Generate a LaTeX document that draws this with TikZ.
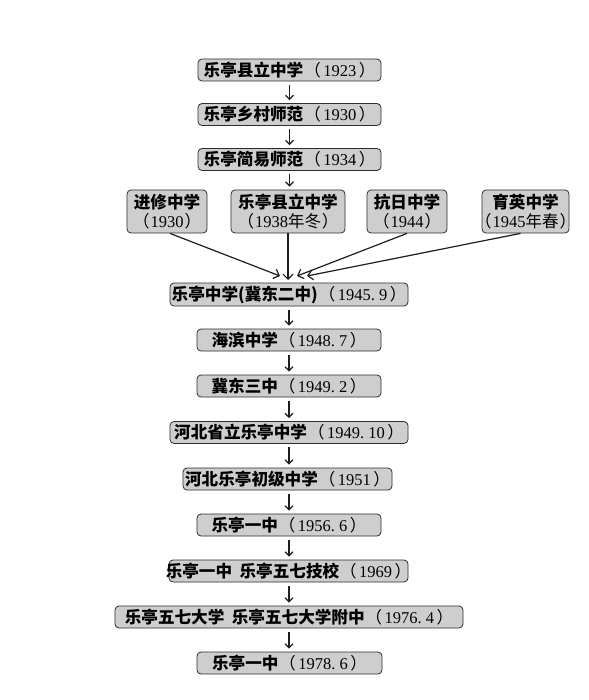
\documentclass[tikz,border=0pt]{standalone}
\usepackage{fontspec}
\setmainfont{Liberation Serif}
\newfontfamily\cjk{Noto Sans CJK SC}
\usetikzlibrary{arrows.meta}
\newcommand\zc[1]{\makebox[0pt]{#1}}
\newcommand\zh[1]{{\cjk\bfseries\fontsize{16.6}{18}\selectfont #1}}
\newcommand\yr[1]{\hspace{1pt}{\cjk （}\hspace{2.5pt}#1\hspace{2.5pt}{\cjk ）}}
\newcommand\yrr[1]{{\cjk （}\hspace{1pt}#1\hspace{1pt}{\cjk ）}}
\newcommand\pd{\makebox[0.5em][l]{.}}
\definecolor{boxfill}{RGB}{206,206,206}
\definecolor{boxline}{RGB}{45,45,45}
\definecolor{arrline}{RGB}{30,30,30}
\tikzset{
  box/.style={draw=boxline, fill=boxfill, rounded corners=4pt, line width=0.8pt,
    inner sep=0pt, text=black, font=\fontsize{16.5}{18.5}\selectfont, align=center},
  arr/.style={draw=arrline, line width=1.2pt, -{Straight Barb[length=4pt,width=8pt,line width=1.2pt]},
    shorten <=3.5pt, shorten >=3pt},
  conv/.style={draw=arrline, line width=1.2pt, -{Straight Barb[length=5pt,width=10pt,line width=1.2pt]}}
}
\begin{document}
\begin{tikzpicture}[x=1pt,y=-1pt]
\useasboundingbox (0,0) rectangle (588,700);
\fill[white] (0,0) rectangle (588,700);

\node[box, minimum width=183pt, minimum height=22pt] (b1) at (289.5,70) {\zc{\zh{乐亭县立中学}\yr{1923}}};
\node[box, minimum width=183pt, minimum height=22pt] (b2) at (289.5,114.5) {\zc{\zh{乐亭乡村师范}\yr{1930}}};
\node[box, minimum width=183pt, minimum height=22pt] (b3) at (289.5,159.5) {\zc{\zh{乐亭简易师范}\yr{1934}}};

\node[box, minimum width=80pt, minimum height=43pt] (r1) at (167,211.5) {\zc{\zh{进修中学}}\\\zc{\yrr{1930}}};
\node[box, minimum width=114pt, minimum height=43pt] (r2) at (288,211.5) {\zc{\zh{乐亭县立中学}}\\\zc{\yrr{1938{\cjk 年冬}}}};
\node[box, minimum width=80pt, minimum height=43pt] (r3) at (407,211.5) {\zc{\zh{抗日中学}}\\\zc{\yrr{1944}}};
\node[box, minimum width=87pt, minimum height=43pt] (r4) at (525.5,211.5) {\zc{\zh{育英中学}}\\\zc{\yrr{1945{\cjk 年春}}}};

\node[box, minimum width=238pt, minimum height=23pt] (b4) at (289,294.5) {\zc{\zh{乐亭中学(冀东二中)}\yr{1945\pd9}}};
\node[box, minimum width=184pt, minimum height=22pt] (b5) at (289,340) {\zc{\zh{海滨中学}\yr{1948\pd7}}};
\node[box, minimum width=184pt, minimum height=22pt] (b6) at (289,386) {\zc{\zh{冀东三中}\yr{1949\pd2}}};
\node[box, minimum width=238pt, minimum height=22pt] (b7) at (289,432.5) {\zc{\zh{河北省立乐亭中学}\yr{1949\pd10}}};
\node[box, minimum width=209pt, minimum height=22pt] (b8) at (287.5,479) {\zc{\zh{河北乐亭初级中学}\yr{1951}}};
\node[box, minimum width=184pt, minimum height=22pt] (b9) at (289,525) {\zc{\zh{乐亭一中}\yr{1956\pd6}}};
\node[box, minimum width=239pt, minimum height=22pt] (b10) at (288.5,571) {\zc{\zh{乐亭一中\hspace{0.45em}乐亭五七技校}\yr{1969}}};
\node[box, minimum width=348pt, minimum height=22pt] (b11) at (289,617) {\zc{\zh{乐亭五七大学\hspace{0.45em}乐亭五七大学附中}\yr{1976\pd4}}};
\node[box, minimum width=185pt, minimum height=22pt] (b12) at (289.5,663) {\zc{\zh{乐亭一中}\yr{1978\pd6}}};

\draw[arr] (b1.south) -- (b1.south |- b2.north);
\draw[arr] (b2.south) -- (b2.south |- b3.north);
\draw[arr] (b3.south) -- (b3.south |- r2.north);

\coordinate (t1) at (280,276);
\coordinate (t2) at (288,280);
\coordinate (t3) at (297,276);
\coordinate (t4) at (307,276);
\draw[conv] ([xshift=3pt]r1.south) -- (t1);
\draw[conv] (r2.south) -- (t2);
\draw[conv] (r3.south) -- (t3);
\draw[conv] ([xshift=-5pt]r4.south) -- (t4);

\draw[arr] (b4.south) -- (b4.south |- b5.north);
\draw[arr] (b5.south) -- (b5.south |- b6.north);
\draw[arr] (b6.south) -- (b6.south |- b7.north);
\draw[arr] (b7.south) -- (b7.south |- b8.north);
\draw[arr] (b7.south |- b8.south) -- (b7.south |- b9.north);
\draw[arr] (b9.south) -- (b9.south |- b10.north);
\draw[arr] (b9.south |- b10.south) -- (b9.south |- b11.north);
\draw[arr] (b11.south) -- (b11.south |- b12.north);
\end{tikzpicture}
\end{document}
